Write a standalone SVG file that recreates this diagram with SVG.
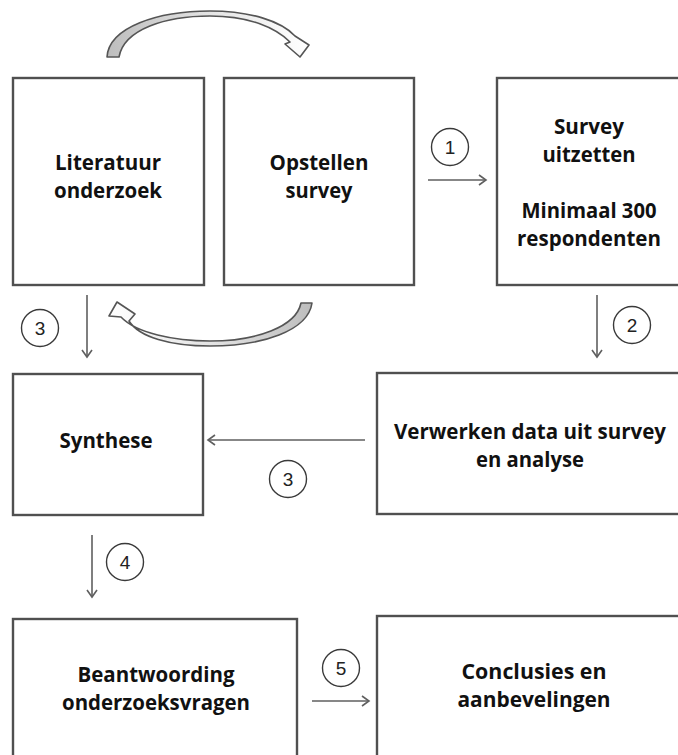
<svg xmlns="http://www.w3.org/2000/svg" width="678" height="755" viewBox="0 0 678 755">
  <style>
    .box { fill: #ffffff; stroke: #505050; stroke-width: 2.4; }
    .lbl { font-family: "Open Sans", "Liberation Sans", sans-serif; font-weight: 700; font-size: 20.5px; fill: #111; text-anchor: middle; }
    .num { font-family: "Liberation Sans", Arial, sans-serif; font-size: 19px; fill: #222; text-anchor: middle; }
    .circ { fill: #ffffff; stroke: #3a3a3a; stroke-width: 1.4; }
    .conn { fill: none; stroke: #5f5f5f; stroke-width: 1.6; marker-end: url(#arr); }
    .curve { stroke: #555; stroke-width: 1.6; stroke-linejoin: round; }
  </style>
  <defs>
    <marker id="arr" markerUnits="userSpaceOnUse" markerWidth="14" markerHeight="14" refX="10" refY="7" orient="auto">
      <path d="M3,2 L10,7 L3,12" fill="none" stroke="#5f5f5f" stroke-width="1.6"/>
    </marker>
    <linearGradient id="gTop" x1="0" y1="0" x2="1" y2="0">
      <stop offset="0" stop-color="#bdbdbd"/>
      <stop offset="0.5" stop-color="#e4e4e4"/>
      <stop offset="1" stop-color="#ffffff"/>
    </linearGradient>
    <linearGradient id="gBot" x1="1" y1="0" x2="0" y2="0">
      <stop offset="0" stop-color="#bdbdbd"/>
      <stop offset="0.5" stop-color="#e4e4e4"/>
      <stop offset="1" stop-color="#ffffff"/>
    </linearGradient>
  </defs>

  <g id="curved-arrows">
    <path class="curve" fill="url(#gTop)" d="M107,57 C109,27 158,11 210,11 C250,11 281,21 295,36 L309,45 L300,57 L285,44 L290,42 C276,28 250,16 210,16 C166,16 124,29 119,57 Z"/>
    <path class="curve" fill="url(#gBot)" d="M312,303 C308,331 262,346 210,346 C170,346 139,337 129,321 L135,314 L117,302 L109,316 L121,317 C136,333 174,341 210,341 C256,341 296,327 301,303 Z"/>
  </g>

  <g id="connectors">
    <line class="conn" x1="428" y1="180" x2="486" y2="180"/>
    <line class="conn" x1="597" y1="295" x2="597" y2="357"/>
    <line class="conn" x1="87" y1="295" x2="87" y2="357"/>
    <line class="conn" x1="365" y1="440" x2="208" y2="440"/>
    <line class="conn" x1="92" y1="535" x2="92" y2="597"/>
    <line class="conn" x1="312" y1="701" x2="369" y2="701"/>
  </g>

  <g id="labels">
    <g id="step1"><circle class="circ" cx="450" cy="147" r="18.5"/><text class="num" x="450" y="154">1</text></g>
    <g id="step2"><circle class="circ" cx="632" cy="325" r="18.5"/><text class="num" x="632" y="332">2</text></g>
    <g id="step3a"><circle class="circ" cx="40" cy="328" r="18.5"/><text class="num" x="40" y="335">3</text></g>
    <g id="step3b"><circle class="circ" cx="288" cy="479" r="18.5"/><text class="num" x="288" y="486">3</text></g>
    <g id="step4"><circle class="circ" cx="125" cy="562" r="18.5"/><text class="num" x="125" y="569">4</text></g>
    <g id="step5"><circle class="circ" cx="341" cy="668" r="18.5"/><text class="num" x="341" y="675">5</text></g>
  </g>

  <g id="literatuur">
    <rect class="box" x="13" y="78" width="191" height="207"/>
    <text class="lbl" x="108" y="170" textLength="106" lengthAdjust="spacingAndGlyphs">Literatuur</text>
    <text class="lbl" x="108" y="198" textLength="108" lengthAdjust="spacingAndGlyphs">onderzoek</text>
  </g>
  <g id="opstellen">
    <rect class="box" x="224" y="78" width="190" height="207"/>
    <text class="lbl" x="319" y="170" textLength="99" lengthAdjust="spacingAndGlyphs">Opstellen</text>
    <text class="lbl" x="319" y="198" textLength="67" lengthAdjust="spacingAndGlyphs">survey</text>
  </g>
  <g id="survey-uitzetten">
    <rect class="box" x="497" y="78" width="200" height="207"/>
    <text class="lbl" x="589" y="134" textLength="70" lengthAdjust="spacingAndGlyphs">Survey</text>
    <text class="lbl" x="589" y="162" textLength="93" lengthAdjust="spacingAndGlyphs">uitzetten</text>
    <text class="lbl" x="589" y="218" textLength="135" lengthAdjust="spacingAndGlyphs">Minimaal 300</text>
    <text class="lbl" x="589" y="246" textLength="144" lengthAdjust="spacingAndGlyphs">respondenten</text>
  </g>
  <g id="synthese">
    <rect class="box" x="13" y="374" width="190" height="141"/>
    <text class="lbl" x="106" y="448" textLength="93" lengthAdjust="spacingAndGlyphs">Synthese</text>
  </g>
  <g id="verwerken">
    <rect class="box" x="377" y="373" width="320" height="141"/>
    <text class="lbl" x="530" y="439" textLength="272" lengthAdjust="spacingAndGlyphs">Verwerken data uit survey</text>
    <text class="lbl" x="530" y="467" textLength="108" lengthAdjust="spacingAndGlyphs">en analyse</text>
  </g>
  <g id="beantwoording">
    <rect class="box" x="13" y="619" width="284" height="150"/>
    <text class="lbl" x="156" y="682" textLength="157" lengthAdjust="spacingAndGlyphs">Beantwoording</text>
    <text class="lbl" x="156" y="710" textLength="188" lengthAdjust="spacingAndGlyphs">onderzoeksvragen</text>
  </g>
  <g id="conclusies">
    <rect class="box" x="377" y="616" width="320" height="150"/>
    <text class="lbl" x="534" y="679" textLength="145" lengthAdjust="spacingAndGlyphs">Conclusies en</text>
    <text class="lbl" x="534" y="707" textLength="153" lengthAdjust="spacingAndGlyphs">aanbevelingen</text>
  </g>
</svg>
